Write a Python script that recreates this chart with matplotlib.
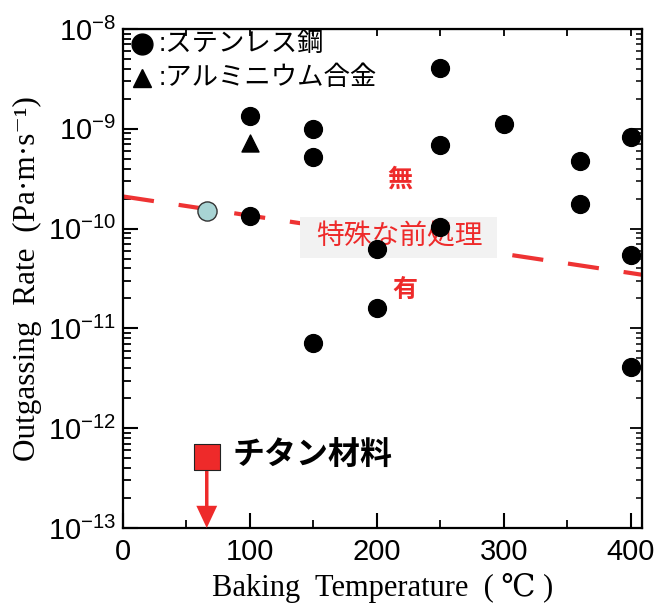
import matplotlib
matplotlib.use("Agg")
import matplotlib.pyplot as plt
from matplotlib.patches import Rectangle
from matplotlib.ticker import LogLocator, NullFormatter, MultipleLocator

plt.rcParams['font.family'] = ['Liberation Sans', 'Noto Sans CJK JP', 'DejaVu Sans']
plt.rcParams['mathtext.fontset'] = 'custom'
plt.rcParams['mathtext.rm'] = 'Liberation Sans'

# ステンレス鋼
ss_temp = [100, 100, 150, 150, 150, 200, 200, 250, 250, 250, 300, 360, 360, 400, 400, 400]
ss_rate = [1.35e-9, 1.34e-10, 1.0e-9, 5.2e-10, 7.2e-12, 6.3e-11, 1.6e-11,
           4.1e-9, 6.9e-10, 1.05e-10, 1.12e-9, 4.8e-10, 1.77e-10, 8.3e-10, 5.5e-11, 4.1e-12]
# アルミニウム合金
al_temp = [100]
al_rate = [7.2e-10]
# 水色の点
cyan_temp = [66]
cyan_rate = [1.5e-10]
# チタン材料
ti_temp = [66]
ti_rate = [5.1e-13]
# 境界線
line_temp = [0, 409]
line_rate = [2.1e-10, 3.45e-11]

xticks = [0, 100, 200, 300, 400]

fig = plt.figure(figsize=(6.56, 6.10), dpi=100)
ax = fig.add_axes([0.1875, 0.1344, 0.7912, 0.818])
ax.set_yscale('log')
ax.set_xlim(0, 409)
ax.set_ylim(1e-13, 1e-8)

ax.plot(line_temp, line_rate, color='#ee3333', lw=3, dashes=(7.5, 6), zorder=2)

# 特殊な前処理 の背景
ax.add_patch(Rectangle((139.4, 5.07e-11), 155.1, 1.31e-10 - 5.07e-11,
                       facecolor='#f2f2f2', edgecolor='none', zorder=2.5))
ax.text(218, 3.07e-10, '無', color='#ee2a2a', fontsize=18, ha='center', va='center',
        fontweight='bold', zorder=3)
ax.text(218, 8.2e-11, '特殊な前処理', color='#ee2a2a', fontsize=20, ha='center', va='center',
        zorder=3)
ax.text(222, 2.43e-11, '有', color='#ee2a2a', fontsize=18, ha='center', va='center',
        fontweight='bold', zorder=3)

ax.scatter(ss_temp, ss_rate, s=165, color='black', zorder=4)
ax.scatter(al_temp, al_rate, s=150, marker='^', color='black', zorder=4)
ax.scatter(cyan_temp, cyan_rate, s=190, color='#a8d4d4', edgecolor='#333333', lw=1, zorder=4)

ax.annotate('', xy=(ti_temp[0], 1e-13), xytext=(ti_temp[0], 3.9e-13),
            arrowprops=dict(facecolor='#ee2a2a', edgecolor='none', width=2.5,
                            headwidth=15, headlength=16, shrink=0), zorder=4)
ax.scatter(ti_temp, ti_rate, s=340, marker='s', color='#ee2a2a', edgecolor='#222222',
           lw=0.8, zorder=5)
ax.text(86, 5.1e-13, 'チタン材料', fontsize=23, fontweight='bold', ha='left', va='center')

# 凡例
ax.plot([0.0366], [0.970], 'o', ms=15, color='black', transform=ax.transAxes, clip_on=False)
ax.plot([0.0366], [0.902], '^', ms=13, color='black', transform=ax.transAxes, clip_on=False)
ax.text(0.068, 0.970, ':ステンレス鋼', fontsize=19, va='center', transform=ax.transAxes)
ax.text(0.068, 0.902, ':アルミニウム合金', fontsize=19, va='center', transform=ax.transAxes)

ax.set_xticks(xticks)
ax.xaxis.set_minor_locator(MultipleLocator(50))
ax.yaxis.set_major_locator(LogLocator(base=10, numticks=10))
ax.yaxis.set_minor_locator(LogLocator(base=10, subs=range(2, 10), numticks=10))
ax.yaxis.set_minor_formatter(NullFormatter())

for s in ax.spines.values():
    s.set_linewidth(1.6)
ax.tick_params(which='major', direction='in', length=11, width=1.5, labelsize=21, pad=5)
ax.tick_params(which='minor', direction='in', length=6, width=1.3)
ax.tick_params(axis='x', which='major', pad=7)

top = ax.secondary_xaxis('top')
top.set_xticks(xticks)
top.xaxis.set_minor_locator(MultipleLocator(50))
top.tick_params(which='both', direction='in', length=5, width=1.3, labeltop=False)
right = ax.secondary_yaxis('right')
right.yaxis.set_major_locator(LogLocator(base=10, numticks=10))
right.yaxis.set_minor_locator(LogLocator(base=10, subs=range(2, 10), numticks=10))
right.tick_params(which='major', direction='in', length=9, width=1.3, labelright=False)
right.tick_params(which='minor', direction='in', length=4, width=1.1)

serif = ['Liberation Serif', 'DejaVu Serif', 'Noto Sans CJK JP']
ax.set_xlabel('Baking  Temperature  ( ℃ )', family=serif, fontsize=22, labelpad=5)
ax.set_ylabel('Outgassing  Rate  (Pa·m·s⁻¹)', family=serif, fontsize=22.5, labelpad=4)

fig.savefig('out.png', dpi=100)
